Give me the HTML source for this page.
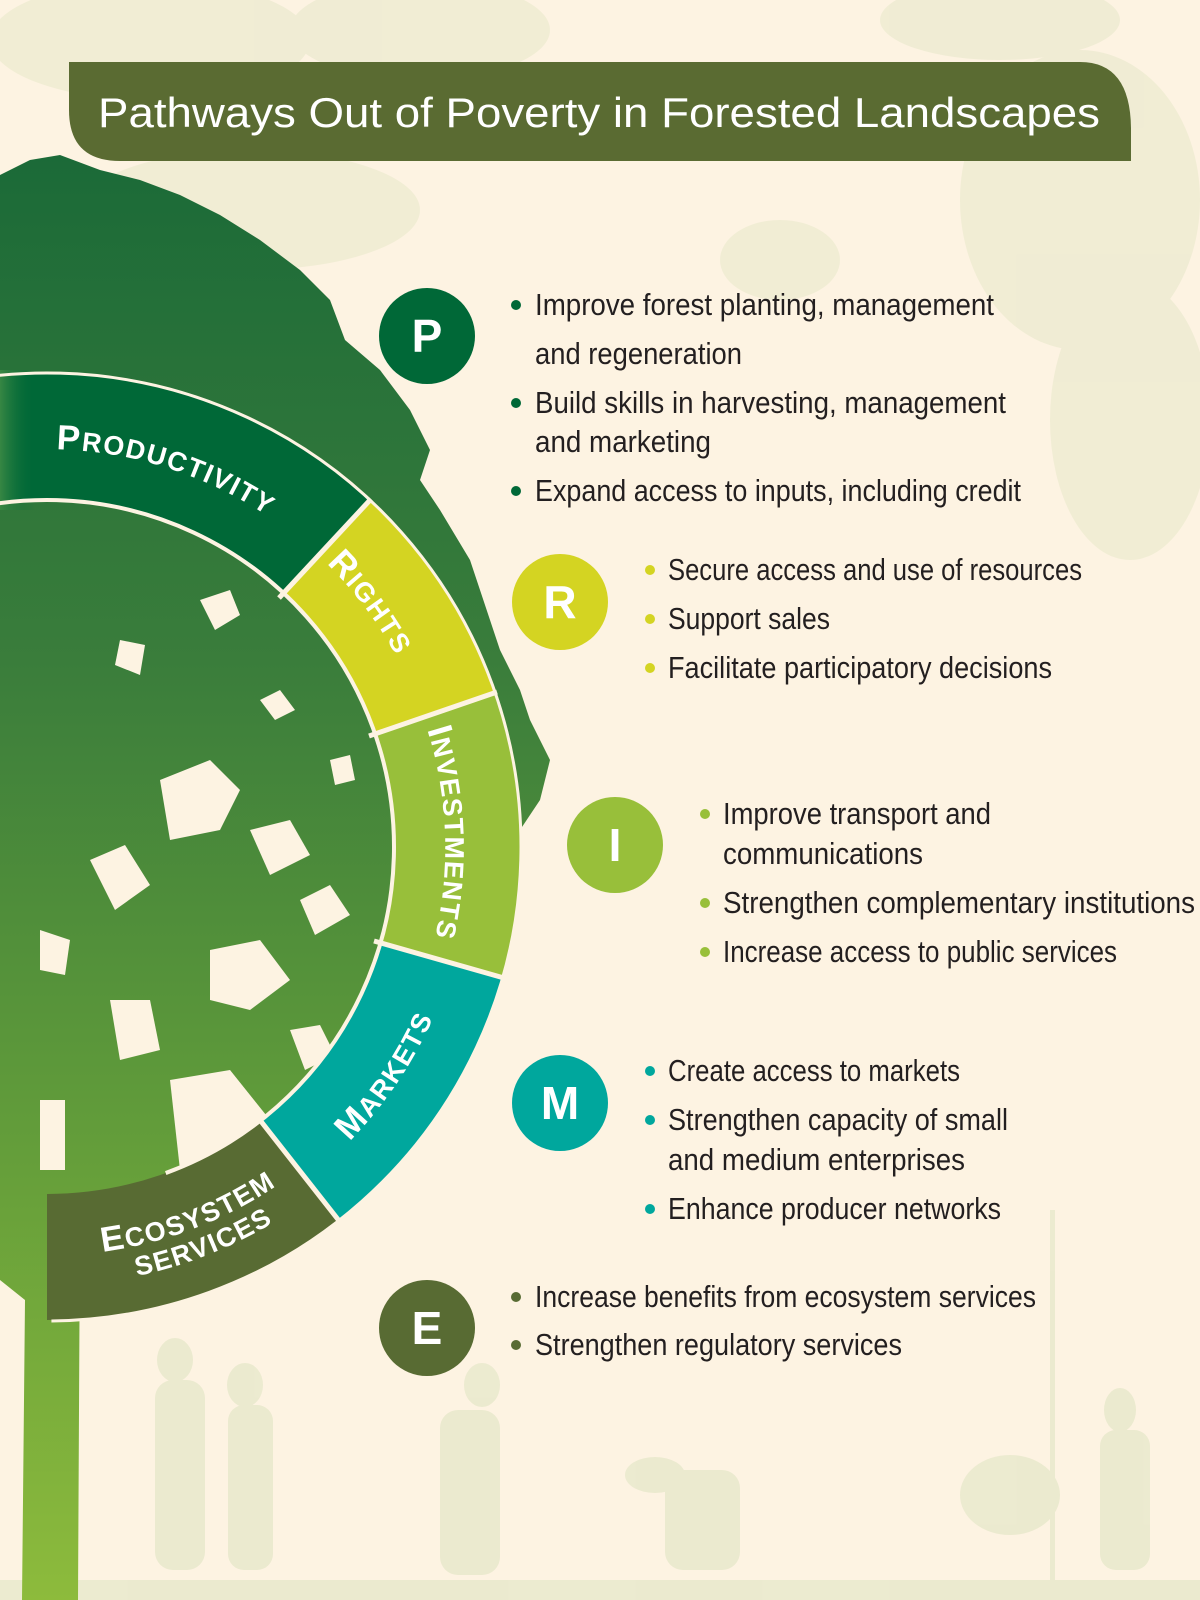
<!DOCTYPE html>
<html><head><meta charset="utf-8"><style>
html,body{margin:0;padding:0;background:#fdf3e2;}
svg{display:block}
.b{font-family:"Liberation Sans Narrow","Liberation Sans",sans-serif;font-size:31px;fill:#231f20;}
.L{font-family:"Liberation Sans",sans-serif;font-weight:bold;fill:#fff;}
</style></head><body>
<svg width="1200" height="1600" viewBox="0 0 1200 1600" xmlns="http://www.w3.org/2000/svg">
<defs>
<linearGradient id="tree" x1="0" y1="0" x2="0" y2="1">
<stop offset="0" stop-color="#1b6a38"/><stop offset="0.35" stop-color="#3a7d3b"/><stop offset="0.65" stop-color="#5f9a3a"/><stop offset="1" stop-color="#8dbb3c"/>
</linearGradient>
<linearGradient id="prodfade" x1="0" y1="0" x2="1" y2="0">
<stop offset="0" stop-color="#3d8a45" stop-opacity="0.9"/><stop offset="0.25" stop-color="#006837" stop-opacity="0"/>
</linearGradient>
</defs>
<rect width="1200" height="1600" fill="#fdf3e2"/>
<g fill="#e9e9cc" opacity="0.6">
<ellipse cx="150" cy="40" rx="160" ry="60"/>
<ellipse cx="420" cy="30" rx="130" ry="50"/>
<ellipse cx="250" cy="210" rx="170" ry="60"/>
<ellipse cx="1080" cy="200" rx="120" ry="150"/>
<ellipse cx="1130" cy="420" rx="80" ry="140"/>
<ellipse cx="780" cy="260" rx="60" ry="40"/>
<ellipse cx="1000" cy="20" rx="120" ry="40"/>
</g>
<g fill="#e9e9cc" opacity="0.85">
<ellipse cx="175" cy="1360" rx="18" ry="22"/><rect x="155" y="1380" width="50" height="190" rx="18"/>
<ellipse cx="245" cy="1385" rx="18" ry="22"/><rect x="228" y="1405" width="45" height="165" rx="16"/>
<ellipse cx="482" cy="1385" rx="18" ry="22"/><rect x="440" y="1410" width="60" height="165" rx="18"/>
<ellipse cx="655" cy="1475" rx="30" ry="18"/><rect x="665" y="1470" width="75" height="100" rx="18"/>
<ellipse cx="1120" cy="1410" rx="16" ry="22"/><rect x="1100" y="1430" width="50" height="140" rx="16"/>
<ellipse cx="1010" cy="1495" rx="50" ry="40"/>
<rect x="0" y="1580" width="1200" height="20"/>
<rect x="1050" y="1210" width="5" height="370"/>
</g>
<path fill="url(#tree)" d="M0,175 L30,160 60,155 100,170 140,180 180,195 220,215 260,240 300,270 330,300 345,340 380,370 410,410 430,450 420,480 440,510 470,560 490,620 500,650 520,690 530,720 550,760 540,800 520,830 520,870 500,920 470,960 420,1000 380,1040 330,1080 300,1110 260,1150 200,1180 110,1200 80,1220 78,1600 22,1600 25,1300 0,1280 Z"/>
<g fill="#fdf3e2">
<path d="M200,600 l30,-10 10,25 -25,15z"/><path d="M120,640 l25,5 -5,30 -25,-10z"/>
<path d="M160,780 l50,-20 30,30 -20,40 -50,10z"/><path d="M250,830 l40,-10 20,35 -40,20z"/>
<path d="M90,860 l35,-15 25,40 -35,25z"/><path d="M300,900 l30,-15 20,30 -35,20z"/>
<path d="M210,950 l50,-10 30,40 -40,30 -40,-10z"/><path d="M110,1000 l40,0 10,50 -40,10z"/>
<path d="M330,760 l20,-5 5,25 -20,5z"/><path d="M260,700 l20,-10 15,20 -20,10z"/>
<path d="M170,1080 l60,-10 40,50 -40,60 -50,-10z"/><path d="M40,1100 l25,0 0,70 -25,0z"/>
<path d="M290,1030 l30,-5 15,30 -30,15z"/><path d="M40,930 l30,10 -5,35 -25,-5z"/>
</g>
<g fill="none" stroke-width="126">
<circle cx="47" cy="847" r="410" stroke="#006837" stroke-dasharray="451 3000" transform="rotate(-110 47 847)"/>
<circle cx="47" cy="847" r="410" stroke="#d4d422" stroke-dasharray="200.3 3000" transform="rotate(-47 47 847)"/>
<circle cx="47" cy="847" r="410" stroke="#98bf3a" stroke-dasharray="250.4 3000" transform="rotate(-19 47 847)"/>
<circle cx="47" cy="847" r="410" stroke="#00a79d" stroke-dasharray="257.6 3000" transform="rotate(16 47 847)"/>
<circle cx="47" cy="847" r="410" stroke="#586b33" stroke-dasharray="271.9 3000" transform="rotate(52 47 847)"/>
</g>
<rect x="0" y="370" width="140" height="140" fill="url(#prodfade)"/>
<g fill="none" stroke="#fdf3e2">
<circle cx="47" cy="847" r="347" stroke-width="4" stroke-dasharray="1090 3000" transform="rotate(-110 47 847)"/>
<circle cx="47" cy="847" r="474" stroke-width="3" stroke-dasharray="1650 3000" transform="rotate(-110 47 847)"/>
</g>
<g stroke="#fdf3e2" stroke-width="5">
<line x1="279" y1="598" x2="371" y2="499"/>
<line x1="369" y1="736" x2="497" y2="692"/>
<line x1="374" y1="941" x2="504" y2="978"/>
<line x1="256" y1="1115" x2="340" y2="1222"/>
</g>
<path id="pP" d="M-8,453 A398,398 0 0 1 318,556" fill="none"/>
<path id="pR" d="M292,533 A398,398 0 0 1 416,698" fill="none"/>
<path id="pI" d="M416,698 A398,398 0 0 1 426,970" fill="none"/>
<path id="pM" d="M329,1161 A422,422 0 0 0 444,991" fill="none"/>
<path id="pE1" d="M83,1254 A409,409 0 0 0 293,1174" fill="none"/>
<path id="pE2" d="M93,1283 A438,438 0 0 0 311,1197" fill="none"/>
<g class="L" font-size="27" letter-spacing="1.5">
<text text-anchor="middle"><textPath href="#pP" startOffset="50%"><tspan font-size="35">P</tspan>RODUCTIVITY</textPath></text>
<text text-anchor="middle"><textPath href="#pR" startOffset="50%"><tspan font-size="35">R</tspan>IGHTS</textPath></text>
<text text-anchor="middle"><textPath href="#pI" startOffset="50%"><tspan font-size="35">I</tspan>NVESTMENTS</textPath></text>
<text text-anchor="middle"><textPath href="#pM" startOffset="50%"><tspan font-size="35">M</tspan>ARKETS</textPath></text>
<text text-anchor="middle"><textPath href="#pE1" startOffset="50%"><tspan font-size="35">E</tspan>COSYSTEM</textPath></text>
<text text-anchor="middle"><textPath href="#pE2" startOffset="50%">SERVICES</textPath></text>
</g>
<path d="M69,62 L1080,62 Q1131,62 1131,130 L1131,161 L120,161 Q69,161 69,110 Z" fill="#5a6b32"/>
<text x="98" y="127" font-family="Liberation Sans, sans-serif" font-size="42" fill="#fff" textLength="1002" lengthAdjust="spacingAndGlyphs">Pathways Out of Poverty in Forested Landscapes</text>
<g class="L" font-size="46" text-anchor="middle">
<circle cx="427" cy="336" r="48" fill="#006837"/><text x="427" y="352">P</text>
<circle cx="560" cy="602" r="48" fill="#d4d422"/><text x="560" y="618">R</text>
<circle cx="615" cy="845" r="48" fill="#98bf3a"/><text x="615" y="861">I</text>
<circle cx="560" cy="1103" r="48" fill="#00a79d"/><text x="560" y="1119">M</text>
<circle cx="427" cy="1328" r="48" fill="#586b33"/><text x="427" y="1344">E</text>
</g>
<g fill="#006837"><circle cx="516" cy="305" r="5"/><circle cx="516" cy="403" r="5"/><circle cx="516" cy="491" r="5"/></g>
<g fill="#d4d422"><circle cx="650" cy="570" r="5"/><circle cx="650" cy="619" r="5"/><circle cx="650" cy="668" r="5"/></g>
<g fill="#98bf3a"><circle cx="705" cy="814" r="5"/><circle cx="705" cy="903" r="5"/><circle cx="705" cy="952" r="5"/></g>
<g fill="#00a79d"><circle cx="650" cy="1071" r="5"/><circle cx="650" cy="1120" r="5"/><circle cx="650" cy="1209" r="5"/></g>
<g fill="#586b33"><circle cx="516" cy="1297" r="5"/><circle cx="516" cy="1345" r="5"/></g>
<g class="b">
<text x="535" y="315" textLength="459" lengthAdjust="spacingAndGlyphs">Improve forest planting, management</text>
<text x="535" y="364" textLength="207" lengthAdjust="spacingAndGlyphs">and regeneration</text>
<text x="535" y="413" textLength="471" lengthAdjust="spacingAndGlyphs">Build skills in harvesting, management</text>
<text x="535" y="452" textLength="176" lengthAdjust="spacingAndGlyphs">and marketing</text>
<text x="535" y="501" textLength="486" lengthAdjust="spacingAndGlyphs">Expand access to inputs, including credit</text>
<text x="668" y="580" textLength="414" lengthAdjust="spacingAndGlyphs">Secure access and use of resources</text>
<text x="668" y="629" textLength="162" lengthAdjust="spacingAndGlyphs">Support sales</text>
<text x="668" y="678" textLength="384" lengthAdjust="spacingAndGlyphs">Facilitate participatory decisions</text>
<text x="723" y="824" textLength="268" lengthAdjust="spacingAndGlyphs">Improve transport and</text>
<text x="723" y="864" textLength="200" lengthAdjust="spacingAndGlyphs">communications</text>
<text x="723" y="913" textLength="472" lengthAdjust="spacingAndGlyphs">Strengthen complementary institutions</text>
<text x="723" y="962" textLength="394" lengthAdjust="spacingAndGlyphs">Increase access to public services</text>
<text x="668" y="1081" textLength="292" lengthAdjust="spacingAndGlyphs">Create access to markets</text>
<text x="668" y="1130" textLength="340" lengthAdjust="spacingAndGlyphs">Strengthen capacity of small</text>
<text x="668" y="1170" textLength="297" lengthAdjust="spacingAndGlyphs">and medium enterprises</text>
<text x="668" y="1219" textLength="333" lengthAdjust="spacingAndGlyphs">Enhance producer networks</text>
<text x="535" y="1307" textLength="501" lengthAdjust="spacingAndGlyphs">Increase benefits from ecosystem services</text>
<text x="535" y="1355" textLength="367" lengthAdjust="spacingAndGlyphs">Strengthen regulatory services</text>
</g>
</svg>
</body></html>
